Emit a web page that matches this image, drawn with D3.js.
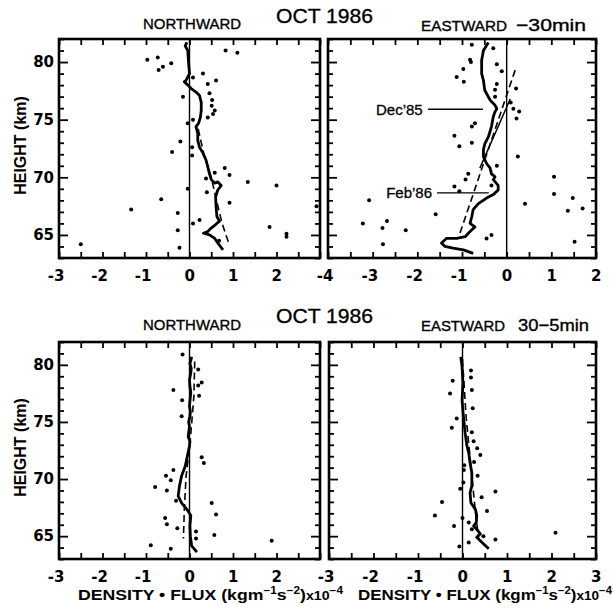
<!DOCTYPE html>
<html><head><meta charset="utf-8">
<script src="https://cdn.jsdelivr.net/npm/d3@7"></script>
<style>
body{margin:0;background:#fff}
svg{display:block}
text{font-family:"Liberation Sans",Arial,sans-serif;fill:#000}
</style>
</head><body>
<svg id="chart" width="613" height="612"></svg>
<script>
// ---------------- DATA ----------------
const heightDomain = [63, 82];
const heightTicks = [65, 70, 75, 80];
const topLeftLabels = [-3, -2, -1, 0, 1, 2];
const topRightLabels = [-4, -3, -2, -1, 0, 1, 2];
const bottomLeftLabels = [-3, -2, -1, 0, 1, 2];
const bottomRightLabels = [-3, -2, -1, 0, 1, 2, 3];

// Top-left: NORTHWARD (-30min)  [flux, height]
const nwTopPoints = [[-0.97,80.2],[-0.73,80.4],[-0.71,79.3],[-0.61,79.6],[-0.42,79.9],[0.83,81.0],[1.10,80.8],[0.31,79.0],[0.08,78.65],[0.42,78.1],[0.61,78.4],[0.46,77.3],[-0.15,77.0],[0.52,76.7],[0.51,76.2],[0.58,75.8],[0.54,75.5],[0.42,75.2],[0.08,75.0],[-0.04,74.7],[-0.21,73.1],[0.06,72.6],[-0.40,72.2],[0.06,71.9],[0.81,70.8],[0.92,70.2],[0.58,70.4],[0.38,69.9],[1.34,69.6],[2.0,69.3],[-0.04,69.0],[0.40,68.7],[-0.65,68.1],[0.92,67.8],[-1.34,67.2],[2.92,67.5],[-0.27,66.9],[0.23,66.3],[0.08,66.0],[1.84,65.7],[2.23,65.1],[2.23,64.85],[-0.27,65.4],[0.68,64.5],[-2.50,64.2],[-0.23,63.9]];
const nwTopProfile = [[-0.06,81.7],[-0.1,81.4],[-0.04,81.0],[-0.02,79.9],[0.0,79.0],[-0.08,78.4],[-0.12,78.3],[-0.04,78.0],[0.04,77.7],[0.15,77.4],[0.23,77.1],[0.27,76.5],[0.27,75.8],[0.25,75.2],[0.21,74.7],[0.15,74.4],[0.19,73.8],[0.19,73.2],[0.23,72.6],[0.31,72.1],[0.38,71.5],[0.42,70.9],[0.46,70.3],[0.5,69.8],[0.58,69.5],[0.65,69.6],[0.73,69.3],[0.65,68.9],[0.6,68.3],[0.61,67.5],[0.63,66.6],[0.69,66.2],[0.6,65.9],[0.5,65.6],[0.42,65.3],[0.32,65.15],[0.46,65.0],[0.58,64.7],[0.65,64.3],[0.77,63.7]];
const nwTopFit = [[0.2,74.2],[0.33,72.0],[0.5,70.0],[0.62,68.0],[0.75,66.0],[0.9,64.3]];

// Top-right: EASTWARD -30min
const ewTopPoints = [[-0.78,81.5],[-0.30,81.2],[-0.82,80.2],[-0.80,80.0],[-0.97,79.4],[-0.22,79.8],[-0.11,79.2],[-1.12,78.7],[-0.96,78.3],[-0.22,78.1],[-0.26,77.6],[0.21,77.7],[-0.26,77.0],[0.09,76.5],[0.15,75.95],[0.28,75.7],[0.22,75.1],[-0.71,74.7],[-0.78,74.4],[-1.17,73.6],[-1.06,72.7],[-0.78,73.0],[0.25,71.8],[-0.22,71.0],[-0.86,70.3],[-0.92,69.8],[-1.17,69.2],[-1.06,68.8],[1.06,70.05],[1.06,68.55],[1.48,68.2],[1.70,67.3],[1.37,67.1],[0.41,67.7],[-3.08,68.0],[-1.59,66.8],[-3.22,66.0],[-2.68,66.2],[-2.78,65.6],[-2.26,65.4],[-2.77,64.2],[-0.34,65.0],[-0.45,64.7],[1.52,64.4],[-0.34,69.3]];
const ewTopProfile = [[-0.41,81.7],[-0.52,81.0],[-0.56,80.15],[-0.56,79.0],[-0.52,78.4],[-0.49,77.55],[-0.37,76.7],[-0.26,76.25],[-0.22,75.95],[-0.26,75.7],[-0.30,75.25],[-0.34,74.4],[-0.41,73.5],[-0.49,72.9],[-0.52,72.4],[-0.52,71.8],[-0.45,71.2],[-0.37,70.8],[-0.34,70.3],[-0.26,70.05],[-0.30,69.8],[-0.19,69.3],[-0.19,68.9],[-0.30,68.5],[-0.45,68.2],[-0.64,67.7],[-0.75,67.2],[-0.78,66.6],[-0.82,66.0],[-0.71,65.7],[-0.82,65.3],[-0.93,64.85],[-1.12,64.7],[-1.35,64.7],[-1.46,64.3],[-1.38,64.0],[-1.20,63.85],[-0.97,63.7],[-0.75,63.4]];
const ewTopFeb86 = [[0.19,79.3],[-1.05,65.1]];
const ewTopDec85 = [[0.08,76.8],[-0.6,70.8]];
const ewNotes = [
  {label:"Dec\u201985", textX:-1.88, lineX0:-1.76, lineX1:-0.53, h:75.9},
  {label:"Feb\u201986", textX:-1.67, lineX0:-1.56, lineX1:-0.40, h:68.65}
];

// Bottom-left: NORTHWARD (30-5min)
const nwBotPoints = [[-0.16,80.9],[0.2,79.6],[0.28,78.45],[0.2,78.2],[-0.37,77.8],[0.22,77.3],[-0.17,76.9],[-0.18,75.5],[0.28,71.9],[0.33,71.4],[-0.37,70.8],[-0.54,70.3],[-0.43,69.9],[-0.79,69.3],[-0.52,69.0],[-0.31,68.1],[0.51,67.9],[0.61,66.9],[-0.56,66.6],[-0.52,66.05],[-0.28,65.7],[0.15,65.4],[0.57,65.1],[0.15,64.8],[-0.89,64.2],[-0.43,63.9],[1.89,64.6]];
const nwBotProfile = [[0.05,80.7],[0.01,80.1],[0.04,79.7],[0.03,79.3],[0.0,78.7],[0.01,78.1],[0.03,77.6],[0.02,77.2],[0.0,76.4],[0.02,75.9],[0.01,75.5],[-0.02,75.0],[0.0,74.6],[-0.03,73.7],[0.01,73.3],[0.0,72.9],[-0.05,72.0],[-0.10,71.1],[-0.18,70.3],[-0.23,69.4],[-0.26,68.5],[-0.18,67.9],[-0.06,67.35],[0.03,66.8],[0.01,65.9],[0.02,65.0],[0.05,64.15],[0.17,63.6]];
const nwBotFit = [[0.12,80.3],[0.1,77.2],[0.02,73.5],[-0.08,70.2],[-0.12,67.2],[-0.14,64.8]];

// Bottom-right: EASTWARD 30-5min
const ewBotPoints = [[0.19,79.5],[0.19,78.9],[-0.22,78.6],[0.21,77.8],[-0.28,77.5],[0.23,76.2],[-0.13,75.3],[-0.24,74.5],[0.21,74.1],[0.25,73.3],[0.33,72.7],[0.40,72.1],[0.26,71.5],[0.04,71.2],[0.03,70.8],[0.34,70.3],[0.02,69.7],[-0.05,69.15],[0.74,68.9],[0.43,68.4],[-0.46,68.0],[0.55,67.2],[-0.62,66.8],[0.0,66.6],[0.14,66.2],[-0.19,65.9],[0.21,65.6],[2.09,65.3],[0.47,65.0],[0.74,64.7],[0.14,64.45],[-0.07,64.1]];
const ewBotProfile = [[-0.04,80.7],[-0.01,79.85],[0.01,78.4],[-0.01,76.9],[0.02,75.5],[0.06,74.0],[0.10,72.9],[0.14,72.3],[0.17,71.4],[0.21,70.55],[0.21,69.4],[0.17,68.8],[0.19,67.9],[0.29,67.35],[0.32,66.8],[0.31,66.2],[0.25,65.9],[0.32,65.6],[0.40,65.2],[0.32,64.9],[0.44,64.45],[0.59,63.9]];
const ewBotFit = [[0.0,80.5],[0.08,75.5],[0.18,71.5],[0.28,67.5],[0.36,64.8]];

// ---------------- DRAW ----------------
const svg = d3.select("#chart");
const panels = [
  {x0:59,x1:320,y0:39,y1:258,dom:[-3,3],labels:topLeftLabels,yLabels:true,pts:nwTopPoints,prof:nwTopProfile,fits:[nwTopFit],solidFits:[]},
  {x0:328,x1:596,y0:39,y1:258,dom:[-4,2],labels:topRightLabels,yLabels:false,pts:ewTopPoints,prof:ewTopProfile,fits:[ewTopFeb86],solidFits:[ewTopDec85],notes:ewNotes},
  {x0:59,x1:320,y0:342,y1:559,dom:[-3,3],labels:bottomLeftLabels,yLabels:true,pts:nwBotPoints,prof:nwBotProfile,fits:[nwBotFit],solidFits:[]},
  {x0:329,x1:596,y0:342,y1:559,dom:[-3,3],labels:bottomRightLabels,yLabels:false,pts:ewBotPoints,prof:ewBotProfile,fits:[ewBotFit],solidFits:[]}
];

const tickFont = '"DejaVu Sans",sans-serif';

panels.forEach((p, i) => {
  const x = d3.scaleLinear().domain(p.dom).range([p.x0, p.x1]);
  const y = d3.scaleLinear().domain(heightDomain).range([p.y1, p.y0]);
  const g = svg.append("g");
  const cid = "clip" + i;
  svg.append("clipPath").attr("id", cid).append("rect")
    .attr("x", p.x0).attr("y", p.y0).attr("width", p.x1 - p.x0).attr("height", p.y1 - p.y0);
  const data = g.append("g").attr("clip-path", `url(#${cid})`);

  // zero line
  data.append("line").attr("x1", x(0)).attr("x2", x(0)).attr("y1", p.y0).attr("y2", p.y1)
    .attr("stroke", "#000").attr("stroke-width", 1.4);

  const line = d3.line().x(d => x(d[0])).y(d => y(d[1]));
  p.fits.forEach(f => data.append("path").attr("d", line(f)).attr("fill", "none")
    .attr("stroke", "#000").attr("stroke-width", 1.6).attr("stroke-dasharray", "7,4"));
  p.solidFits.forEach(f => data.append("path").attr("d", line(f)).attr("fill", "none")
    .attr("stroke", "#000").attr("stroke-width", 1.5));
  data.append("path").attr("d", line(p.prof)).attr("fill", "none")
    .attr("stroke", "#000").attr("stroke-width", 2.8).attr("stroke-linejoin", "round");
  data.selectAll("circle.pt").data(p.pts).join("circle").attr("class", "pt")
    .attr("cx", d => x(d[0])).attr("cy", d => y(d[1])).attr("r", 2).attr("fill", "#000");

  if (p.notes) {
    p.notes.forEach(n => {
      g.append("text").attr("x", x(n.textX)).attr("y", y(n.h)).attr("dy", "0.36em")
        .attr("text-anchor", "end").style("font-size", "15px")
        .attr("stroke", "#000").attr("stroke-width", 0.3).text(n.label);
      g.append("line").attr("x1", x(n.lineX0)).attr("x2", x(n.lineX1))
        .attr("y1", y(n.h)).attr("y2", y(n.h)).attr("stroke", "#000").attr("stroke-width", 1.4);
    });
  }

  // ticks (inward)
  const halfSteps = d3.range(p.dom[0], p.dom[1] + 0.001, 0.5);
  const minorH = d3.range(63, 83, 1).filter(v => !heightTicks.includes(v));
  const tickStyle = sel => { sel.select(".domain").remove(); sel.selectAll("line").attr("stroke-width", 1.8); };
  g.append("g").attr("transform", `translate(0,${p.y1})`)
    .call(d3.axisBottom(x).tickValues(halfSteps).tickSize(-6).tickFormat("")).call(tickStyle);
  g.append("g").attr("transform", `translate(0,${p.y0})`)
    .call(d3.axisTop(x).tickValues(halfSteps).tickSize(-6).tickFormat("")).call(tickStyle);
  [[d3.axisLeft, p.x0], [d3.axisRight, p.x1]].forEach(([ax, xx]) => {
    g.append("g").attr("transform", `translate(${xx},0)`)
      .call(ax(y).tickValues(minorH).tickSize(-5).tickFormat("")).call(tickStyle);
    g.append("g").attr("transform", `translate(${xx},0)`)
      .call(ax(y).tickValues(heightTicks).tickSize(-9).tickFormat("")).call(tickStyle);
  });

  // frame
  g.append("rect").attr("x", p.x0).attr("y", p.y0).attr("width", p.x1 - p.x0).attr("height", p.y1 - p.y0)
    .attr("fill", "none").attr("stroke", "#000").attr("stroke-width", 2.6);

  // x labels
  const xl = g.append("g").attr("transform", `translate(0,${p.y1})`)
    .call(d3.axisBottom(x).tickValues(p.labels).tickSize(0).tickPadding(12).tickFormat(d => d < 0 ? "-" + Math.abs(d) : String(d)));
  xl.select(".domain").remove();
  xl.selectAll("text").attr("text-anchor", "end").attr("x", 5).attr("font-family", null)
    .style("font-family", tickFont).style("font-size", "15px").style("font-weight", "bold").attr("fill", "#000");

  if (p.yLabels) {
    const yl = g.append("g").attr("transform", `translate(${p.x0},0)`)
      .call(d3.axisLeft(y).tickValues(heightTicks).tickSize(0).tickPadding(5));
    yl.select(".domain").remove();
    yl.selectAll("text").attr("font-family", null).style("font-family", tickFont)
      .style("font-size", "15px").style("font-weight", "bold").attr("fill", "#000");
    svg.append("text").attr("transform", `translate(26,${(p.y0 + p.y1) / 2 - 3}) rotate(-90)`)
      .attr("text-anchor", "middle").style("font-size", "16px").style("font-weight", "bold").text("HEIGHT (km)");
  }
});

// titles
function title(txt, xx, yy, size, anchor, len) {
  const t = svg.append("text").attr("x", xx).attr("y", yy).attr("text-anchor", anchor)
    .style("font-size", size + "px").attr("stroke", "#000").attr("stroke-width", 0.35).text(txt);
  if (len) t.attr("textLength", len).attr("lengthAdjust", "spacingAndGlyphs");
  return t;
}
title("NORTHWARD", 192, 29, 15, "middle", 98);
title("OCT 1986", 276, 23, 20, "start", 97);
title("EASTWARD", 421, 30.5, 15, "start", 86);
title("\u221230min", 516, 30.5, 17, "start", 70);
title("NORTHWARD", 192, 330, 15, "middle", 98);
title("OCT 1986", 276, 323, 20, "start", 97);
title("EASTWARD", 421, 331, 15, "start", 84);
title("30\u22125min", 518, 331, 17, "start", 71);

// x axis titles
function xTitle(xx, len) {
  const t = svg.append("text").attr("x", xx).attr("y", 600).style("font-size", "15px").style("font-weight", "bold")
    .attr("textLength", len).attr("lengthAdjust", "spacingAndGlyphs");
  t.append("tspan").text("DENSITY \u2022 FLUX (kgm");
  t.append("tspan").attr("dy", -6).style("font-size", "10px").text("\u22121");
  t.append("tspan").attr("dy", 6).text("s");
  t.append("tspan").attr("dy", -6).style("font-size", "10px").text("\u22122");
  t.append("tspan").attr("dy", 6).text(")");
  t.append("tspan").style("font-size", "12px").text("x10");
  t.append("tspan").attr("dy", -6).style("font-size", "10px").text("\u22124");
}
xTitle(78, 265);
xTitle(358, 254);
</script>
</body></html>
